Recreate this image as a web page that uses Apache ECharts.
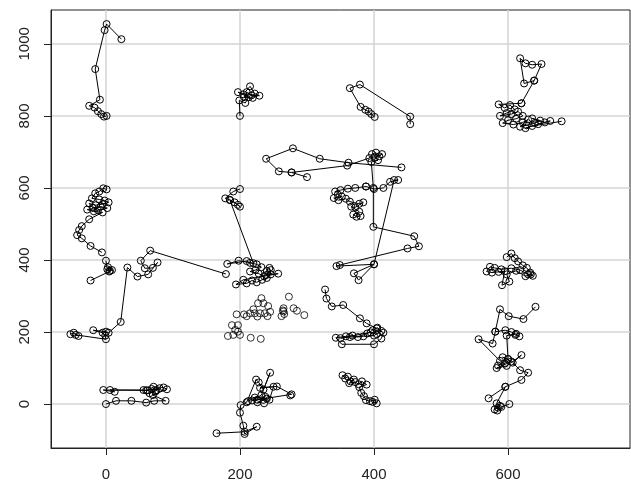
<!DOCTYPE html>
<html>
<head>
<meta charset="utf-8">
<script src="https://cdn.jsdelivr.net/npm/echarts@6/dist/echarts.min.js"></script>
<style>
  html, body { margin: 0; padding: 0; background: #fff; }
  #chart { width: 631px; height: 482px; }
</style>
</head>
<body>
<div id="chart"></div>
<script>
  // tick labels
  const xTicks = [0, 200, 400, 600]
  const yTicks = [0, 200, 400, 600, 800, 1000]

  // tracks (points joined in order)
  const trackA = [[23,1013],[1,1055],[-2,1038],[-16,930],[-9,845],[-25,828],[-17,823],[-12,813],[-7,805],[-3,798],[1,800]]
  const trackB = [[200,800],[199,843],[208,836],[213,852],[197,866],[205,860],[215,882],[222,862],[229,856],[217,857],[210,866],[206,852],[219,850]]
  const trackC = [[300,630],[277,643],[258,646],[239,681],[279,710],[319,681],[362,670],[441,657]]
  const trackD = [[277,643],[360,662],[393,683],[397,694],[403,698],[408,688],[412,694],[401,684],[406,677],[396,672],[399,600],[399,492],[460,466],[467,438],[450,432],[349,386],[344,383],[400,388],[377,344],[370,363],[400,388],[430,622],[436,622],[424,617],[414,600],[400,597],[388,604]]
  const trackE = [[388,604],[372,600],[361,598],[350,594],[342,590],[346,582],[352,576],[340,572],[347,566],[358,570],[364,562],[378,556],[384,560],[372,546],[366,548],[378,534],[369,526],[374,520],[380,522]]
  const trackF = [[327,318],[329,293],[337,271],[354,275],[379,238],[389,224],[404,210],[414,198],[411,182],[400,166],[352,166],[343,184],[358,188],[368,190],[376,186],[390,196],[398,205],[405,212],[411,203],[400,190],[384,188],[364,186],[350,183],[395,199],[404,194]]
  const trackG = [[353,80],[357,71],[361,76],[365,63],[370,68],[363,58],[372,61],[377,55],[382,63],[389,54],[378,47],[381,31],[385,22],[388,11],[394,8],[401,12],[404,2],[398,6]]
  const trackH = [[620,835],[639,898],[624,890],[618,960],[626,946],[636,942],[650,944],[639,898]]
  const trackI = [[620,835],[586,832],[595,822],[603,830],[610,818],[598,808],[588,800],[605,805],[615,812],[622,800],[612,792],[600,788],[592,780],[608,776],[622,782],[630,790],[618,770],[628,774],[640,780],[648,787],[636,793],[655,782],[663,786],[645,777],[626,766],[636,772],[680,785]]
  const trackJ = [[598,408],[605,418],[610,405],[615,396],[622,385],[628,378],[633,365],[637,356],[630,360],[618,372],[605,377],[590,374],[580,378],[573,381],[568,368],[576,365],[586,367],[595,369],[591,330],[602,340],[598,360],[612,370],[626,355],[634,360]]
  const trackK = [[641,270],[623,236],[601,244],[588,263],[581,201],[577,168],[556,180],[588,120],[595,112],[585,107],[600,125],[592,130],[605,118],[583,100],[598,106],[620,136],[607,115],[618,94],[630,87],[620,67],[596,48],[571,16]]
  const trackK2 = [[581,201],[596,205],[605,200],[611,192],[617,188],[612,195],[598,190],[600,125]]
  const trackL = [[596,48],[583,2],[585,-10],[580,-15],[588,-5],[584,-18],[590,-8],[602,0]]
  const trackM = [[1,596],[-4,599],[-10,590],[-16,585],[-21,571],[-10,568],[-2,565],[4,560],[-5,555],[-15,552],[-25,557],[-20,545],[-8,548],[2,544],[-12,538],[-28,540],[-18,535],[-5,532],[-25,513],[-36,494],[-40,483],[-43,469],[-36,460],[-23,439],[-6,421]]
  const trackN = [[0,398],[2,374],[6,370],[3,380],[9,372],[5,368],[-23,343]]
  const trackO = [[-53,194],[-48,198],[-41,189],[-45,192],[0,180],[-1,190],[-5,198],[-19,205],[0,201],[4,198],[22,228],[32,379],[47,354],[63,360],[77,393],[70,378],[58,377],[52,398],[66,426],[179,361]]
  const trackP = [[200,597],[190,590],[178,571],[185,567],[197,553],[200,548],[192,560],[185,566],[220,391],[198,398],[181,389],[210,397],[215,392],[225,388],[232,380],[223,372],[215,368],[228,362],[236,355],[240,370],[244,378],[246,360],[240,350],[233,345],[225,338],[218,343],[210,335],[194,332],[205,345],[257,362],[239,358],[246,372]]
  const trackQ = [[165,-81],[207,-77],[225,-63],[207,-83],[205,-60],[200,-24],[201,-3],[210,5],[224,68],[228,60],[235,40],[245,87],[232,25],[218,10],[240,15],[226,5],[236,2],[244,12],[250,48],[230,45],[255,49],[277,27],[275,24],[226,12],[238,20],[222,18],[212,8]]
  const trackR = [[0,0],[15,9],[38,9],[60,4],[72,9],[89,9],[70,25],[91,41],[86,46],[71,48],[62,38],[56,39],[6,39],[13,34],[-4,39],[60,38],[68,42],[75,38],[80,44],[65,30],[74,35]]
  const trackS = [[454,777],[454,798],[379,887],[364,877],[380,825],[387,817],[392,812],[396,805],[401,797]]

  // points with no joining line
  const loosePoints = [[273,298],[265,266],[280,266],[285,259],[296,247],[262,244],[265,257],[232,294],[227,280],[235,280],[242,272],[220,263],[215,252],[222,252],[230,252],[237,252],[245,256],[206,249],[210,244],[226,243],[195,249],[241,244],[188,219],[197,219],[193,206],[182,189],[190,192],[200,192],[197,201],[216,184],[231,181],[264,260],[266,250]]

  const tracks = [trackA, trackB, trackC, trackD, trackE, trackF, trackG, trackH, trackI, trackJ, trackK, trackK2, trackL, trackM, trackN, trackO, trackP, trackQ, trackR, trackS]

  const pointStyle = {
    color: 'rgba(0,0,0,0)',
    borderColor: '#000',
    borderWidth: 1,
  }

  const series = tracks.map(function (t) {
    return {
      type: 'line',
      data: t,
      symbol: 'circle',
      symbolSize: 7,
      showAllSymbol: true,
      lineStyle: { color: '#000', width: 1 },
      itemStyle: pointStyle,
    }
  })
  series.push({
    type: 'scatter',
    data: loosePoints,
    symbol: 'circle',
    symbolSize: 7,
    itemStyle: pointStyle,
  })

  const axisFont = {
    color: '#222',
    fontSize: 15,
    fontFamily: 'Liberation Sans, Arial, sans-serif',
    formatter: function (v) { return String(v) },
  }

  const mychart = echarts.init(document.getElementById('chart'))
  mychart.setOption({
    animation: false,
    backgroundColor: '#fff',
    grid: {
      left: 51,
      right: 1,
      top: 10,
      bottom: 34,
      show: true,
      borderColor: '#222',
      borderWidth: 1,
    },
    xAxis: {
      type: 'value',
      min: -82,
      max: 782,
      splitNumber: 4,
      axisLine: { show: true, onZero: false, lineStyle: { color: '#222' } },
      axisTick: { show: true, inside: false, length: 7, customValues: xTicks, lineStyle: { color: '#222' } },
      axisLabel: Object.assign({ margin: 19, customValues: xTicks }, axisFont),
      splitLine: { show: true, lineStyle: { color: '#d3d3d3', width: 1.5 } },
    },
    yAxis: {
      type: 'value',
      min: -122,
      max: 1094,
      splitNumber: 6,
      axisLine: { show: true, onZero: false, lineStyle: { color: '#222' } },
      axisTick: { show: true, inside: false, length: 7, customValues: yTicks, lineStyle: { color: '#222' } },
      axisLabel: Object.assign({ margin: 19, rotate: 90, customValues: yTicks }, axisFont),
      splitLine: { show: true, lineStyle: { color: '#d3d3d3', width: 1.5 } },
    },
    series: series,
  })
</script>
</body>
</html>
